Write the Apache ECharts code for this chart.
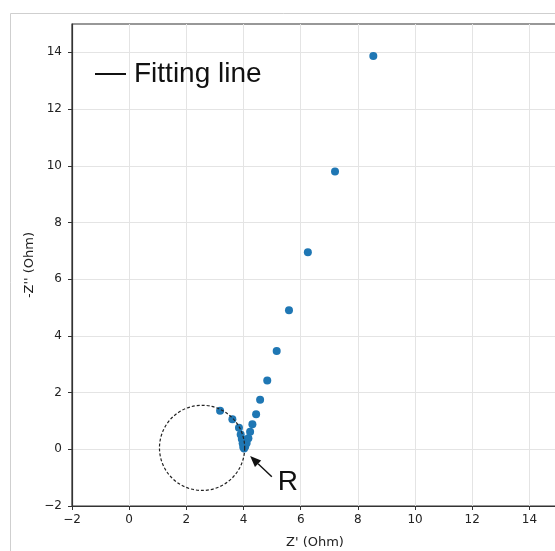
<!DOCTYPE html>
<html><head><meta charset="utf-8">
<script src="https://cdn.jsdelivr.net/npm/echarts@6/dist/echarts.min.js"></script>
<style>html,body{margin:0;padding:0;background:#fff}#c{width:555px;height:551px}</style>
</head><body><div id="c"></div>
<script>
// Nyquist data (Z' , -Z'')
const zReal = [8.54, 7.20, 6.25, 5.59, 5.16, 4.83, 4.58, 4.44, 4.31, 4.23, 4.17, 4.11, 4.06, 4.02, 3.99, 3.97, 3.94, 3.90, 3.84, 3.61, 3.18];
const zImag = [13.87, 9.80, 6.95, 4.90, 3.47, 2.43, 1.75, 1.24, 0.88, 0.62, 0.39, 0.22, 0.10, 0.03, 0.08, 0.21, 0.36, 0.52, 0.76, 1.06, 1.36];
const xTicks = [-2, 0, 2, 4, 6, 8, 10, 12, 14];
const yTicks = [-2, 0, 2, 4, 6, 8, 10, 12, 14];
const legendName = 'Fitting line';
// annotations
const circleCenter = [2.55, 0.05];
const circleRadius = 1.49;
const arrowTip = [4.23, -0.24];
const arrowTail = [4.99, -0.97];
const labelRPos = [5.55, -1.15];
const labelR = 'R';

const points = zReal.map((x, i) => [x, zImag[i]]);
const chart = echarts.init(document.getElementById('c'), null, {renderer: 'canvas'});
const tickFont = {fontFamily: 'DejaVu Sans', fontSize: 12, color: '#222'};
const fmt = v => (v < 0 ? '\u2212' + Math.abs(v) : '' + v);
chart.setOption({
  animation: false,
  backgroundColor: '#fff',
  grid: {left: 72, top: 24, right: -3, bottom: 45, show: true, borderColor: '#333', borderWidth: 1.2, backgroundColor: '#fff', containLabel: false, outerBoundsMode: 'none'},
  legend: {
    data: [legendName], left: 95, top: 60, padding: 0,
    icon: 'rect', itemWidth: 31, itemHeight: 2, itemGap: 5,
    textStyle: {fontFamily: 'Liberation Sans', fontSize: 28, color: '#111', padding: [0, 0, 0, 3]},
    itemStyle: {color: '#111'}
  },
  xAxis: {
    type: 'value', min: -2, max: 15, interval: 2,
    name: "Z' (Ohm)", nameLocation: 'middle', nameGap: 30, nameMoveOverlap: false,
    nameTextStyle: {fontFamily: 'DejaVu Sans', fontSize: 13, color: '#222'},
    axisLine: {show: true, onZero: false, lineStyle: {color: '#333', width: 1.2}},
    axisTick: {show: true, length: 4, customValues: xTicks, lineStyle: {color: '#333'}},
    axisLabel: Object.assign({margin: 8, customValues: xTicks, formatter: fmt}, tickFont),
    splitLine: {show: true, lineStyle: {color: '#e4e4e4', width: 1}}
  },
  yAxis: {
    type: 'value', min: -2, max: 15, interval: 2,
    name: "-Z'' (Ohm)", nameLocation: 'middle', nameGap: 36, nameMoveOverlap: false,
    nameTextStyle: {fontFamily: 'DejaVu Sans', fontSize: 13, color: '#222'},
    axisLine: {show: true, onZero: false, lineStyle: {color: '#333', width: 1.2}},
    axisTick: {show: true, length: 4, customValues: yTicks, lineStyle: {color: '#333'}},
    axisLabel: Object.assign({margin: 10, customValues: yTicks, formatter: fmt}, tickFont),
    splitLine: {show: true, lineStyle: {color: '#e4e4e4', width: 1}}
  },
  series: [
    {name: legendName, type: 'line', data: [], showSymbol: false, itemStyle: {color: '#111'}, lineStyle: {color: '#111'}},
    {name: 'data', type: 'scatter', data: points, symbolSize: 8, itemStyle: {color: '#1f77b4', opacity: 1}, z: 5}
  ]
});

function px(p) { return chart.convertToPixel({gridIndex: 0}, p); }
const c0 = px(circleCenter);
const cr = px([circleCenter[0] + circleRadius, circleCenter[1]]);
const r = cr[0] - c0[0];
const tip = px(arrowTip), tail = px(arrowTail), rp = px(labelRPos);
const dx = tip[0] - tail[0], dy = tip[1] - tail[1];
const len = Math.hypot(dx, dy), ux = dx / len, uy = dy / len;
const headL = 11, headW = 4.5;
const bx = tip[0] - ux * headL, by = tip[1] - uy * headL;
chart.setOption({
  graphic: [
    {type: 'rect', silent: true, z: -10, shape: {x: 10.5, y: 13.5, width: 700, height: 700}, style: {fill: 'none', stroke: '#cfcfcf', lineWidth: 1}},
    {type: 'circle', silent: true, z: 100, shape: {cx: c0[0], cy: c0[1], r: r}, style: {fill: 'none', stroke: '#222', lineWidth: 1.2, lineDash: [3, 2]}},
    {type: 'line', silent: true, z: 100, shape: {x1: tail[0], y1: tail[1], x2: bx, y2: by}, style: {stroke: '#111', lineWidth: 1.4}},
    {type: 'polygon', silent: true, z: 100, shape: {points: [tip, [bx - uy * headW, by + ux * headW], [bx + uy * headW, by - ux * headW]]}, style: {fill: '#111'}},
    {type: 'text', silent: true, z: 100, x: rp[0], y: rp[1], style: {text: labelR, fontFamily: 'Liberation Sans', fontSize: 28, fill: '#111', align: 'center', verticalAlign: 'middle'}}
  ]
});
</script>
</body></html>
